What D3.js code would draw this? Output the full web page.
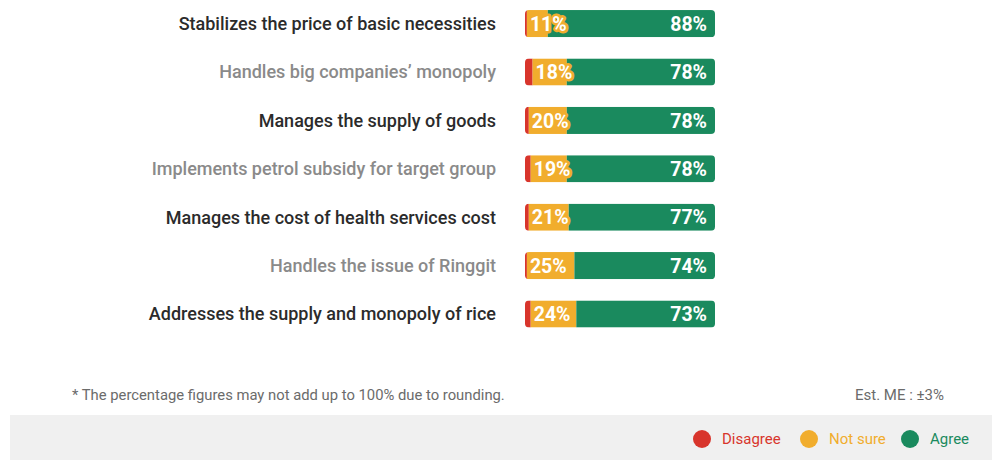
<!DOCTYPE html>
<html>
<head>
<meta charset="utf-8">
<script src="https://cdn.jsdelivr.net/npm/d3@7"></script>
<style>
  html, body { margin: 0; padding: 0; background: #fff; }
  svg { display: block; font-family: Roboto, "Liberation Sans", sans-serif; }
</style>
</head>
<body>
<svg id="chart" width="992" height="460"></svg>
<script>
// Survey items, top to bottom
const categories = [
  "Stabilizes the price of basic necessities",
  "Handles big companies\u2019 monopoly",
  "Manages the supply of goods",
  "Implements petrol subsidy for target group",
  "Manages the cost of health services cost",
  "Handles the issue of Ringgit",
  "Addresses the supply and monopoly of rice"
];
// Share of respondents (%)
const disagree = [1, 4, 2, 3, 2, 1, 3];
const notSure  = [11, 18, 20, 19, 21, 25, 24];
const agree    = [88, 78, 78, 78, 77, 74, 73];

const seriesNames = ["Disagree", "Not sure", "Agree"];
const seriesColors = ["#d8352c", "#f1ad2d", "#1a8a5e"];

const footnote = "* The percentage figures may not add up to 100% due to rounding.";
const marginNote = "Est. ME : \u00b13%";

const svg = d3.select("#chart");

const rows = categories.map((c, i) => ({
  category: c, Disagree: disagree[i], "Not sure": notSure[i], Agree: agree[i]
}));

const stacked = d3.stack().keys(seriesNames)(rows);

const x = d3.scaleLinear().domain([0, 100]).range([525, 715]);
const y = d3.scaleBand().domain(categories).range([-0.6, 338.2]).paddingInner(0.44).paddingOuter(0.22);
const color = d3.scaleOrdinal().domain(seriesNames).range(seriesColors);

// Category labels, alternating dark / grey
svg.append("g").selectAll("text")
  .data(categories)
  .join("text")
  .attr("x", 496)
  .attr("y", d => y(d) + y.bandwidth() / 2)
  .attr("dy", "0.36em")
  .attr("text-anchor", "end")
  .attr("font-size", 18)
  .attr("font-weight", 500)
  .attr("fill", (d, i) => i % 2 === 0 ? "#2b2b2b" : "#8a8a8a")
  .text(d => d);

// Rounded clip per bar
const defs = svg.append("defs");
rows.forEach((r, i) => {
  defs.append("clipPath").attr("id", "clip" + i)
    .append("rect")
    .attr("x", x(0))
    .attr("y", y(r.category))
    .attr("width", x(stacked[2][i][1]) - x(0))
    .attr("height", y.bandwidth())
    .attr("rx", 4).attr("ry", 4);
});

const bars = svg.append("g").selectAll("g")
  .data(rows)
  .join("g")
  .attr("clip-path", (d, i) => `url(#clip${i})`);

bars.each(function(r, i) {
  d3.select(this).selectAll("rect")
    .data(stacked.map(s => ({ key: s.key, v: s[i] })))
    .join("rect")
    .attr("x", d => x(d.v[0]))
    .attr("y", y(r.category))
    .attr("width", d => x(d.v[1]) - x(d.v[0]))
    .attr("height", y.bandwidth())
    .attr("fill", d => color(d.key));
});

// "Not sure" value labels with a yellow halo
svg.append("g").selectAll("text")
  .data(rows)
  .join("text")
  .attr("x", (d, i) => x(stacked[0][i][1]) + 3)
  .attr("y", d => y(d.category) + y.bandwidth() / 2)
  .attr("dy", "0.37em")
  .attr("font-size", 19.5)
  .attr("font-weight", 700)
  .attr("fill", "#fff")
  .attr("stroke", seriesColors[1])
  .attr("stroke-width", 5)
  .attr("stroke-linejoin", "round")
  .attr("paint-order", "stroke")
  .text(d => d["Not sure"] + "%");

// "Agree" value labels
svg.append("g").selectAll("text")
  .data(rows)
  .join("text")
  .attr("x", (d, i) => x(stacked[2][i][1]) - 8)
  .attr("y", d => y(d.category) + y.bandwidth() / 2)
  .attr("dy", "0.37em")
  .attr("text-anchor", "end")
  .attr("font-size", 19.5)
  .attr("font-weight", 700)
  .attr("fill", "#fff")
  .text(d => d.Agree + "%");

// Notes
svg.append("text")
  .attr("x", 72).attr("y", 400)
  .attr("font-size", 14.8).attr("fill", "#6b6b6b")
  .text(footnote);
svg.append("text")
  .attr("x", 944).attr("y", 400)
  .attr("text-anchor", "end")
  .attr("font-size", 15).attr("fill", "#6b6b6b")
  .text(marginNote);

// Legend band
svg.append("rect")
  .attr("x", 10).attr("y", 415)
  .attr("width", 982).attr("height", 45)
  .attr("fill", "#f0f0f0");

const legendX = [702, 809, 910];
const legend = svg.append("g").selectAll("g")
  .data(seriesNames)
  .join("g")
  .attr("transform", (d, i) => `translate(${legendX[i]},439)`);
legend.append("circle").attr("r", 9).attr("fill", d => color(d));
legend.append("text")
  .attr("x", 20).attr("dy", "0.36em")
  .attr("font-size", 15)
  .attr("fill", d => color(d))
  .text(d => d);
</script>
</body>
</html>
